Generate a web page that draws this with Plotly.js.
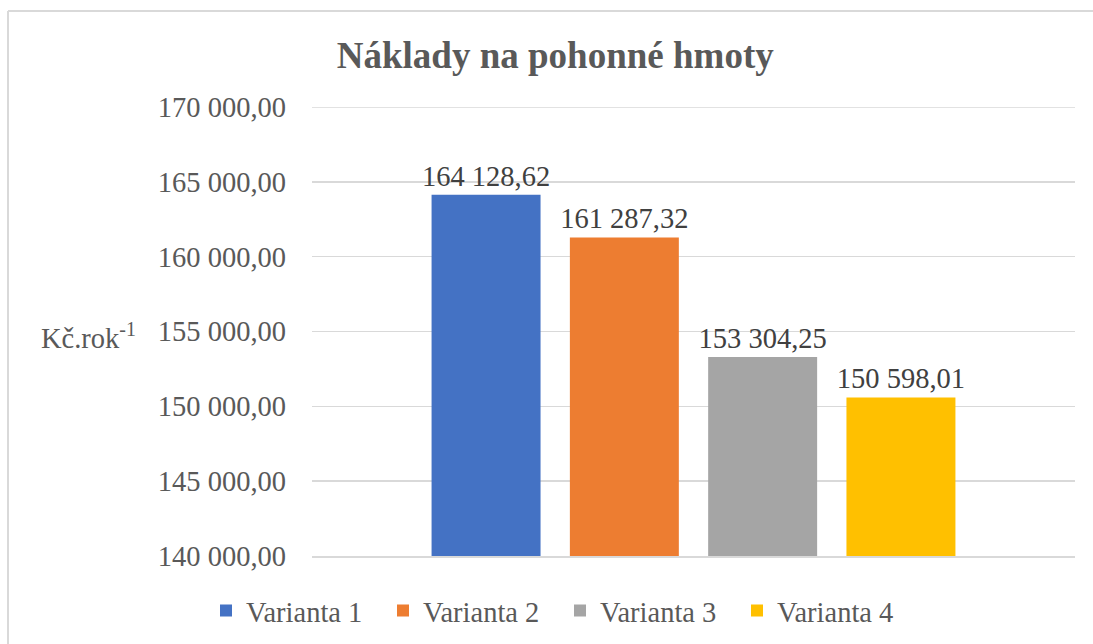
<!DOCTYPE html>
<html>
<head>
<meta charset="utf-8">
<script src="https://cdn.plot.ly/plotly-3.0.1.min.js"></script>
<style>
html,body{margin:0;padding:0;background:#fff;}
#chart{width:1093px;height:644px;}
</style>
</head>
<body>
<div id="chart"></div>
<script>
const category = ['Náklady'];
const seriesNames = ['Varianta 1', 'Varianta 2', 'Varianta 3', 'Varianta 4'];
const seriesValues = [164128.62, 161287.32, 153304.25, 150598.01];
const seriesColors = ['#4472C4', '#ED7D31', '#A5A5A5', '#FFC000'];
const titleText = 'Náklady na pohonné hmoty';
const yTitle = 'Kč.rok<sup>-1</sup>';
const yRange = [140000, 170000];
const yStep = 5000;

const serif = 'Liberation Serif, Times New Roman, serif';
const fs = 28.5;

const traces = seriesNames.map((name, i) => ({
  type: 'bar',
  name: name,
  x: category,
  y: [seriesValues[i]],
  marker: {color: seriesColors[i]},
  texttemplate: '%{y:,.2f}',
  textposition: 'outside',
  constraintext: 'none',
  cliponaxis: false,
  textfont: {family: serif, size: fs, color: '#404040'},
  hoverinfo: 'skip'
}));

// plot area: x 312..1075, y 107..556
const L = 312, R = 1093 - 1075, T = 107, B = 644 - 556;
const pw = 1093 - L - R, ph = 644 - T - B;
const px = v => (v - L) / pw;
const py = v => (644 - B - v) / ph;

const layout = {
  width: 1093, height: 644,
  margin: {l: L, r: R, t: T, b: B, pad: 0},
  paper_bgcolor: '#ffffff',
  plot_bgcolor: '#ffffff',
  separators: ', ',
  barmode: 'group',
  bargap: 0.275,
  bargroupgap: 0.212,
  showlegend: true,
  hovermode: false,
  title: {
    text: '<b>' + titleText + '</b>',
    font: {family: serif, size: 37, color: '#595959'},
    xref: 'container', x: 0.508, xanchor: 'center',
    yref: 'container', y: 1 - 55 / 644, yanchor: 'middle'
  },
  xaxis: {
    type: 'category',
    showticklabels: false,
    showgrid: false,
    zeroline: false,
    showline: true,
    linecolor: '#D9D9D9',
    linewidth: 1.5,
    ticks: '',
    fixedrange: true
  },
  yaxis: {
    range: yRange,
    dtick: yStep,
    tick0: 0,
    tickformat: ',.2f',
    showgrid: true,
    gridcolor: '#D9D9D9',
    gridwidth: 1.5,
    zeroline: false,
    showline: false,
    ticks: '',
    ticklabelstandoff: 25,
    tickfont: {family: serif, size: fs, color: '#595959'},
    fixedrange: true
  },
  legend: {
    orientation: 'h',
    xref: 'container', x: 206 / 1093, xanchor: 'left',
    yref: 'container', y: 1 - 611 / 644, yanchor: 'middle',
    font: {family: serif, size: fs, color: '#595959'},
    entrywidth: 132, entrywidthmode: 'pixels',
    itemwidth: 30,
    bgcolor: 'rgba(0,0,0,0)'
  },
  annotations: [{
    text: yTitle,
    xref: 'paper', yref: 'paper',
    x: px(138), xanchor: 'right',
    y: py(336), yanchor: 'middle',
    showarrow: false,
    font: {family: serif, size: fs, color: '#595959'}
  }],
  shapes: [
    // top gridline (Plotly drops gridlines lying on the plot edge)
    {type: 'line', xref: 'paper', yref: 'y', x0: 0, x1: 1, y0: yRange[1], y1: yRange[1],
     layer: 'below', line: {color: '#D9D9D9', width: 1.5}},
    // chart-area border (left and top edges visible in the reference)
    {type: 'line', xref: 'paper', yref: 'paper', x0: px(8), x1: px(8), y0: py(11), y1: py(660),
     line: {color: '#D9D9D9', width: 2}},
    {type: 'line', xref: 'paper', yref: 'paper', x0: px(8), x1: px(1110), y0: py(11), y1: py(11),
     line: {color: '#D9D9D9', width: 2}}
  ]
};

Plotly.newPlot('chart', traces, layout, {displayModeBar: false, staticPlot: true});
</script>
</body>
</html>
